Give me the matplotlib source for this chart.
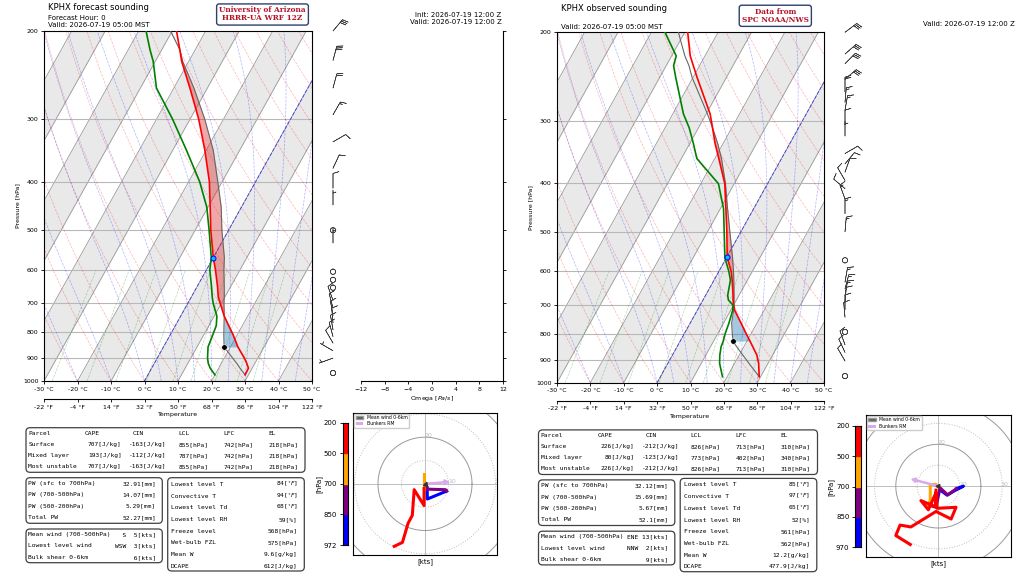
import numpy as np
import matplotlib
matplotlib.use('Agg')
import matplotlib.pyplot as plt
from matplotlib.patches import FancyBboxPatch, Patch
from matplotlib.ticker import NullLocator

W, H = 1024, 575
SKEW = 36.2  # degC of x shift per ln(1000/p)

# ---------------- data: forecast (left) ----------------
P_FC = [972, 943, 922, 900, 855, 809, 775, 742, 700, 679, 648, 600, 567, 500,
        450, 400, 346, 300, 260, 230, 218, 200]
T_FC = [29.0, 28.9, 27.6, 26.0, 22.2, 18.8, 15.9, 13.0, 9.7, 8.0, 6.1, 2.7, 0.0, -5.3,
        -9.3, -13.8, -20.4, -27.4, -35.2, -42.1, -44.6, -48.7]
TD_FC = [20.0, 17.5, 16.1, 15.0, 13.3, 12.7, 12.2, 10.8, 7.6, 6.2, 4.3, 1.0, -0.6, -5.8,
         -10.3, -16.7, -25.9, -35.2, -45.2, -50.6, -53.5, -57.8]
PARCEL_FC = [29.0, 26.4, 24.6, 22.5, 18.1, 16.0, 14.5, 13.0, 10.8, 9.8, 8.1, 5.2, 3.3, -2.0,
             -6.0, -11.3, -17.9, -25.6, -34.0, -41.8, -44.6, -50.5]
LCL_FC, LFC_FC, EL_FC, LCLT_FC, FRZ_FC = 855, 742, 218, 18.1, 568

WP_FC = [200, 229, 260, 294, 333, 376, 412, 445, 500, 530, 605, 628, 651, 690, 715, 740,
         765, 790, 815, 840, 870, 900, 964]
WDIR_FC = [40, 15, 15, 30, 60, 25, 0, 0, 0, 0, 0, 0, 0, 340, 345, 350, 355, 350, 345, 330,
           300, 250, 250]
WSPD_FC = [30, 30, 20, 15, 10, 10, 10, 7, 0, 5, 0, 0, 0, 10, 10, 10, 10, 10, 10, 10, 5, 5, 1]

HODO_FC = [
    ([0.9, 1.0, 9.2], [-1.6, -6.5, -3.1]),                                  # sfc-850
    ([9.2, 8.7, 1.7, 0.2], [-3.1, -2.5, -2.3, -1.9]),                       # 850-700
    ([-0.3, -0.3, -0.3, -0.3], [-1.9, 4.3, 1.0, -2.0]),                     # 700-500
    ([-0.4, -0.4, -4.6, -5.0, -5.4, -7.2, -9.6, -13.1],
     [-2.0, -9.3, -2.5, -8.0, -13.5, -16.9, -25.1, -26.8]),                 # 500-200
]
MEAN_FC = (1.1, -1.1)
BUNK_FC = (10.1, 0.8)

# ---------------- data: observed (right) ----------------
P_OB = [973, 915, 881, 848, 826, 797, 760, 717, 700, 684, 669, 624, 600, 563, 500,
        450, 401, 357, 334, 310, 291, 246, 233, 223, 200]
T_OB = [29.6, 27.2, 25.3, 22.7, 20.9, 18.4, 15.2, 11.2, 10.0, 9.0, 8.2, 5.4, 3.7, 0.2, -4.2,
        -8.3, -12.8, -18.8, -22.3, -25.8, -28.8, -38.8, -41.9, -44.4, -49.1]
TD_OB = [18.6, 15.5, 14.2, 13.2, 12.9, 12.2, 11.6, 10.6, 9.8, 7.6, 6.6, 4.9, 3.0, -0.5, -5.0,
         -9.0, -14.7, -25.4, -28.8, -32.8, -36.8, -45.2, -47.8, -48.6, -55.9]
PARCEL_OB = [29.6, 24.3, 21.1, 17.9, 15.8, 14.3, 12.4, 10.9, 10.1, 9.3, 8.5, 5.9, 4.4, 1.8, -3.3,
             -7.8, -12.6, -18.0, -21.5, -25.8, -29.6, -40.3, -43.2, -46.0, -51.9]
LCL_OB, LFC_OB, EL_OB, LCLT_OB, FRZ_OB = 826, 717, 310, 15.8, 561

WP_OB = [200, 221, 231, 248, 263, 276, 286, 306, 322, 349, 366, 380, 395, 410, 430, 460,
         500, 570, 630, 650, 670, 690, 715, 740, 792, 840, 870, 905, 970]
WDIR_OB = [53, 49, 45, 50, 0, 5, 10, 0, 0, 60, 40, 20, 330, 310, 340, 0, 5, 0, 10, 15, 10,
           5, 0, 355, 0, 340, 335, 330, 340]
WSPD_OB = [30, 30, 30, 30, 20, 15, 15, 10, 5, 10, 10, 10, 10, 10, 15, 15, 15, 0, 15, 15, 15,
           10, 10, 10, 0, 10, 10, 10, 2]

HODO_OB = [
    ([0.8, 4.1, 7.6, 11.8, 8.5], [-1.8, -4.3, -2.2, 0.0, -1.2]),
    ([8.5, 4.4, 0.8, -1.1, -4.7], [-1.2, -4.2, -0.8, -10.1, -9.0]),
    ([-4.7, -3.8, -3.8, -1.4, 0.0], [-9.0, -6.6, 0.5, 0.9, 0.0]),
    ([-1.1, -1.4, -8.2, -4.7, -1.1, -0.6, 8.3, 6.0, -1.1, -12.9, -18.0, -20.0, -13.2],
     [-1.9, -9.8, -6.9, -11.3, -3.1, -10.6, -10.1, -15.7, -12.1, -19.5, -18.6, -23.6, -27.9]),
]
MEAN_OB = (0.5, -1.0)
BUNK_OB = (-12.4, 3.3)

# ---------------- tables ----------------
PARCEL_NAMES = ['Surface', 'Mixed layer', 'Most unstable']
CAPE_FC, CIN_FC = [707, 193, 707], [-163, -112, -163]
LCLS_FC, LFCS_FC, ELS_FC = [855, 787, 855], [742, 742, 742], [218, 218, 218]
CAPE_OB, CIN_OB = [226, 80, 226], [-212, -123, -212]
LCLS_OB, LFCS_OB, ELS_OB = [826, 773, 826], [713, 402, 713], [310, 340, 310]

PW_NAMES = ['PW (sfc to 700hPa)', 'PW (700-500hPa)', 'PW (500-200hPa)', 'Total PW']
PW_FC = ['32.91', '14.07', '5.29', '52.27']
PW_OB = ['32.12', '15.69', '5.67', '52.1']

WIND_NAMES = ['Mean wind (700-500hPa)', 'Lowest level wind', 'Bulk shear 0-6km']
WDIR_TXT_FC, WSPD_TXT_FC = ['S', 'WSW', ''], [5, 3, 6]
WDIR_TXT_OB, WSPD_TXT_OB = ['ENE', 'NNW', ''], [13, 2, 9]

STAT_NAMES = ['Lowest level T', 'Convective T', 'Lowest level Td', 'Lowest level RH',
              'Freeze level', 'Wet-bulb FZL', 'Mean W', 'DCAPE']
STAT_UNITS = ['[$^{\\circ}F$]'] * 3 + ['[%]', '[hPa]', '[hPa]', '[g/kg]', '[J/kg]']
STATS_FC = ['84', '94', '68', '59', '568', '575', '9.6', '612']
STATS_OB = ['85', '97', '65', '52', '561', '562', '12.2', '477.9']

P_TICKS = [200, 300, 400, 500, 600, 700, 800, 900, 1000]
TICKS_C = [-30, -20, -10, 0, 10, 20, 30, 40, 50]
TICKS_F = [-22, -4, 14, 32, 50, 68, 86, 104, 122]
MOIST_T0 = [-30, -20, -10, 0, 5, 10, 15, 20, 25, 30, 35, 40, 45]
DRY_T0 = list(range(-30, 221, 10))
MIX_W = [0.4, 1, 2, 4, 7, 10, 16, 24, 32]
LAYER_COLORS = ['blue', 'purple', 'orange', 'red']

plt.rcParams['font.size'] = 4.5
plt.rcParams['axes.linewidth'] = 0.8
plt.rcParams['xtick.major.size'] = 2.5
plt.rcParams['ytick.major.size'] = 2.5
plt.rcParams['xtick.major.width'] = 0.6
plt.rcParams['ytick.major.width'] = 0.6
plt.rcParams['xtick.major.pad'] = 1.5
plt.rcParams['ytick.major.pad'] = 1.5
plt.rcParams['xtick.labelsize'] = 4.5
plt.rcParams['ytick.labelsize'] = 4.5
plt.rcParams['axes.labelsize'] = 4.5

fig = plt.figure(figsize=(W / 100, H / 100), dpi=100)


def frac(x0, y0, x1, y1):
    return [x0 / W, 1 - y1 / H, (x1 - x0) / W, (y1 - y0) / H]


def skx(t, p):
    return np.asarray(t, float) + SKEW * np.log(1000.0 / np.asarray(p, float))


PLINE = np.geomspace(1000, 200, 80)


def moist(t0):
    def dtdp(T, p):
        es = 6.112 * np.exp(17.67 * (T - 273.15) / (T - 29.65))
        rs = 0.622 * es / (p - es)
        return (287.04 * T + 2.501e6 * rs) / (1004.6 + 2.501e6 ** 2 * rs * 0.622 / (287.04 * T ** 2)) / p
    T = t0 + 273.15
    out = [T]
    for i in range(1, len(PLINE)):
        dp = PLINE[i] - PLINE[i - 1]
        k1 = dtdp(T, PLINE[i - 1])
        k2 = dtdp(T + k1 * dp, PLINE[i])
        T = T + 0.5 * (k1 + k2) * dp
        out.append(T)
    return np.array(out) - 273.15


def background(ax):
    for t0 in range(-100, 50, 20):
        ax.fill_betweenx(PLINE, skx(t0, PLINE), skx(t0 + 10, PLINE), color='0.915', lw=0, zorder=0)
    for t0 in range(-110, 60, 10):
        ax.plot(skx(t0, PLINE), PLINE, color='0.6', lw=0.6, zorder=1)
    for p in P_TICKS[1:-1]:
        ax.axhline(p, color='0.72', lw=0.8, zorder=1)
    for th in DRY_T0:
        t = (th + 273.15) * (PLINE / 1000) ** 0.2857 - 273.15
        ax.plot(skx(t, PLINE), PLINE, color='r', ls='--', lw=0.5, alpha=0.3, zorder=1)
    for t0 in MOIST_T0:
        ax.plot(skx(moist(t0), PLINE), PLINE, color='b', ls='--', lw=0.5, alpha=0.3, zorder=1)
    pm = np.geomspace(1000, 600, 20)
    for w in MIX_W:
        e = pm * w / (622 + w)
        le = np.log(e / 6.112)
        td = 243.5 * le / (17.67 - le)
        ax.plot(skx(td, pm), pm, color='g', ls='--', lw=0.5, alpha=0.3, zorder=1)
    ax.plot(skx(0, PLINE), PLINE, color='b', ls='--', lw=0.7, alpha=0.6, zorder=1)


def skew_axes(rect):
    ax = fig.add_axes(rect)
    ax.set_yscale('log')
    ax.set_ylim(1000, 200)
    ax.set_xlim(-30, 50)
    ax.set_yticks(P_TICKS)
    ax.set_yticklabels([str(v) for v in P_TICKS])
    ax.yaxis.set_minor_locator(NullLocator())
    ax.set_xticks(TICKS_C)
    ax.set_xticklabels([f'{c} °C' for c in TICKS_C])
    ax.set_ylabel('Pressure [hPa]', labelpad=2)
    sec = ax.secondary_xaxis(-0.052)
    sec.set_xticks(TICKS_C)
    sec.set_xticklabels([f'{f} °F' for f in TICKS_F])
    sec.set_xlabel('Temperature', labelpad=1.5)
    background(ax)
    return ax


def sounding(ax, p, t, td, parc, lcl, lfc, el, lcl_t, frz):
    p = np.array(p, float)
    xt, xp = skx(t, p), skx(parc, p)
    ax.fill_betweenx(p, xt, xp, where=(p <= lfc) & (p >= el), color='tab:red', alpha=0.4, lw=0, zorder=2)
    ax.fill_betweenx(p, xt, xp, where=(p <= lcl) & (p >= lfc), color='tab:blue', alpha=0.4, lw=0, zorder=2)
    ax.plot(xp, p, color='0.4', lw=0.8, zorder=3)
    ax.plot(xt, p, color='r', lw=1.2, zorder=4)
    ax.plot(skx(td, p), p, color='g', lw=1.2, zorder=4)
    ax.plot(skx(lcl_t, lcl), lcl, 'o', color='k', mec='w', mew=0.4, ms=4, zorder=5)
    ax.plot(skx(0, frz), frz, 'o', mfc='deepskyblue', mec='blue', ms=3.6, mew=0.7, zorder=5)


def barb_column(xc, y0, y1, p, wdir, wspd):
    bx = fig.add_axes(frac(xc - 15, y0, xc + 15, y1))
    bx.set_yscale('log')
    bx.set_ylim(1000, 200)
    bx.set_xlim(0, 1)
    bx.axis('off')
    d = np.radians(wdir)
    s = np.array(wspd, float)
    bx.barbs(np.full(len(p), 0.5), p, -s * np.sin(d), -s * np.cos(d), length=4.6,
             lw=0.45, color='0.25', clip_on=False, sizes=dict(emptybarb=0.18))


def hodograph(rect, lim, layers, mean, bunk, rings_lab):
    hx = fig.add_axes(rect)
    hx.set_xlim(-lim, lim)
    hx.set_ylim(-lim, lim)
    hx.set_xticks([])
    hx.set_yticks([])
    hx.axhline(0, color='0.75', lw=0.7, zorder=1)
    hx.axvline(0, color='0.75', lw=0.7, zorder=1)
    th = np.linspace(0, 2 * np.pi, 200)
    for r, ls, c in [(10, ':', '0.75'), (20, '-', '0.6'), (30, ':', '0.75'), (40, '-', '0.6')]:
        hx.plot(r * np.cos(th), r * np.sin(th), ls=ls, color=c, lw=0.7, zorder=1)
    for s, x, y in rings_lab:
        hx.text(x, y, s, color='0.75', fontsize=4.5, ha='center', va='center', clip_on=True)
    for (u, v), c in zip(layers, LAYER_COLORS):
        hx.plot(u, v, color=c, lw=2.2, zorder=3)
    hx.arrow(0, 0, bunk[0], bunk[1], width=0.5, head_width=2.2, head_length=2.0,
             length_includes_head=True, color='#d8a9ec', zorder=4)
    hx.arrow(0, 0, mean[0], mean[1], width=0.4, head_width=2.0, head_length=1.5,
             length_includes_head=True, color='0.2', zorder=5)
    hx.legend(handles=[Patch(fc='0.35', ec='0.6', label='Mean wind 0-6km'),
                       Patch(fc='#d8a9ec', label='Bunkers RM')],
              loc='upper left', fontsize=3.3, framealpha=1, borderpad=0.3,
              handlelength=1.6, handleheight=0.6, labelspacing=0.3, borderaxespad=0.2)
    hx.set_xlabel('[kts]', fontsize=5, labelpad=2)


def layer_bar(rect, labels):
    cx = fig.add_axes(rect)
    for i, c in enumerate(LAYER_COLORS):
        cx.axhspan(i, i + 1, color=c)
    cx.set_ylim(0, 4)
    cx.set_xlim(0, 1)
    cx.set_xticks([])
    cx.set_yticks(range(5))
    cx.set_yticklabels(labels, fontsize=5)
    cx.set_ylabel('[hPa]', fontsize=5, labelpad=1)


def rbox(x0, y0, x1, y1):
    fig.add_artist(FancyBboxPatch((x0 / 100, (H - y1) / 100), (x1 - x0) / 100, (y1 - y0) / 100,
                                  boxstyle='round,pad=0,rounding_size=0.04',
                                  transform=fig.dpi_scale_trans, fc='white', ec='0.25', lw=0.9))


def txt(x, y, s, ha='left', **kw):
    kw.setdefault('family', 'DejaVu Sans Mono')
    kw.setdefault('fontsize', 4.5)
    fig.text(x / W, 1 - y / H, s, ha=ha, va='center', **kw)


def tables(dx, dy, dy4, cape, cin, lcl, lfc, el, pw, wdir, wspd, stats):
    rbox(26 + dx, 427.7 + dy, 305 + dx, 472.3 + dy)
    y = 433.3 + dy
    for s, x in [('Parcel', 28.3), ('CAPE', 85), ('CIN', 132.7), ('LCL', 178.3), ('LFC', 223.3), ('EL', 268.3)]:
        txt(x + dx, y, s)
    for i, name in enumerate(PARCEL_NAMES):
        y = 444.4 + i * 11.2 + dy
        txt(28.3 + dx, y, name)
        txt(121.7 + dx, y, f'{cape[i]}[J/kg]', ha='right')
        txt(166.7 + dx, y, f'{cin[i]}[J/kg]', ha='right')
        txt(178.3 + dx, y, f'{lcl[i]}[hPa]')
        txt(223.3 + dx, y, f'{lfc[i]}[hPa]')
        txt(268.3 + dx, y, f'{el[i]}[hPa]')
    rbox(26 + dx, 477.7 + dy, 162.3 + dx, 523.3 + dy)
    for i, name in enumerate(PW_NAMES):
        y = 483.5 + i * 11.3 + dy
        txt(28.3 + dx, y, name)
        txt(156 + dx, y, f'{pw[i]}[mm]', ha='right')
    rbox(26 + dx, 529 + dy, 162.3 + dx, 562.7 + dy)
    for i, name in enumerate(WIND_NAMES):
        y = 534.4 + i * 11.5 + dy
        txt(28.3 + dx, y, name)
        txt(156 + dx, y, f'{wdir[i]:>3} {wspd[i]:>2}[kts]', ha='right')
    rbox(167.7 + dx, 477.7 + dy4, 304.3 + dx, 571 + dy4)
    for i, name in enumerate(STAT_NAMES):
        y = 484.3 + i * 11.7 + dy4
        txt(171 + dx, y, name)
        txt(297.7 + dx, y, stats[i] + STAT_UNITS[i], ha='right')


# ---------------- left: forecast ----------------
ax1 = skew_axes(frac(44, 31, 312, 381))
sounding(ax1, P_FC, T_FC, TD_FC, PARCEL_FC, LCL_FC, LFC_FC, EL_FC, LCLT_FC, FRZ_FC)
barb_column(333, 31, 381, WP_FC, WDIR_FC, WSPD_FC)

ox = fig.add_axes(frac(361, 31, 503, 381))
ox.set_yscale('log')
ox.set_ylim(1000, 200)
ox.spines[['left', 'top']].set_visible(False)
ox.yaxis.tick_right()
ox.set_yticks(P_TICKS)
ox.set_yticklabels([])
ox.yaxis.set_minor_locator(NullLocator())
ox.set_xlim(-12, 12)
ox.set_xticks(range(-12, 13, 4))
ox.set_xlabel('Omega [$Pa/s$]', labelpad=1.5)
ox.patch.set_alpha(0)

hodograph(frac(353.3, 412.7, 496.7, 555), 30.5, HODO_FC, MEAN_FC, BUNK_FC,
          [('10', 11.5, 1.0), ('20', 1.3, 20.8), ('30', 31.2, 1.0)])
layer_bar(frac(342.7, 422.7, 348.3, 545), ['972', '850', '700', '500', '200'])
tables(0, 0, 0, CAPE_FC, CIN_FC, LCLS_FC, LFCS_FC, ELS_FC, PW_FC, WDIR_TXT_FC, WSPD_TXT_FC, STATS_FC)

txt(48.3, 7.3, 'KPHX forecast sounding', family='DejaVu Sans', fontsize=6)
txt(48.3, 17.7, 'Forecast Hour: 0', family='DejaVu Sans', fontsize=5)
txt(48.3, 25.0, 'Valid: 2026-07-19 05:00 MST', family='DejaVu Sans', fontsize=5)
txt(501.7, 15.0, 'Init: 2026-07-19 12:00 Z', ha='right', family='DejaVu Sans', fontsize=5)
txt(501.7, 22.3, 'Valid: 2026-07-19 12:00 Z', ha='right', family='DejaVu Sans', fontsize=5)
fig.text(262.5 / W, 1 - 14.5 / H, 'University of Arizona\nHRRR-UA WRF 12Z', ha='center', va='center',
         family='DejaVu Serif', weight='bold', fontsize=5.3, color='#b5122a', linespacing=1.0,
         bbox=dict(boxstyle='round,pad=0.35', fc='white', ec='#2f3f6f', lw=1))

# ---------------- right: observed ----------------
ax2 = skew_axes(frac(557, 32.3, 824, 382.7))
sounding(ax2, P_OB, T_OB, TD_OB, PARCEL_OB, LCL_OB, LFC_OB, EL_OB, LCLT_OB, FRZ_OB)
barb_column(845, 32.3, 382.7, WP_OB, WDIR_OB, WSPD_OB)

hodograph(frac(866, 415, 1010.7, 557.3), 34, HODO_OB, MEAN_OB, BUNK_OB,
          [('10', 11.5, 0.9), ('20', 1.3, 20.9), ('30', 31.2, 0.9)])
layer_bar(frac(855, 425.7, 860.7, 547.3), ['970', '850', '700', '500', '200'])
tables(512.5, 2.2, 0.7, CAPE_OB, CIN_OB, LCLS_OB, LFCS_OB, ELS_OB, PW_OB, WDIR_TXT_OB, WSPD_TXT_OB, STATS_OB)

txt(561.3, 8.3, 'KPHX observed sounding', family='DejaVu Sans', fontsize=6)
txt(561.3, 26.7, 'Valid: 2026-07-19 05:00 MST', family='DejaVu Sans', fontsize=5)
txt(1014.7, 24.0, 'Valid: 2026-07-19 12:00 Z', ha='right', family='DejaVu Sans', fontsize=5)
fig.text(775.3 / W, 1 - 15.8 / H, 'Data from\nSPC NOAA/NWS', ha='center', va='center',
         family='DejaVu Serif', weight='bold', fontsize=5.3, color='#b5122a', linespacing=1.0,
         bbox=dict(boxstyle='round,pad=0.35', fc='white', ec='#2f3f6f', lw=1))

fig.savefig('out.png', dpi=100)
